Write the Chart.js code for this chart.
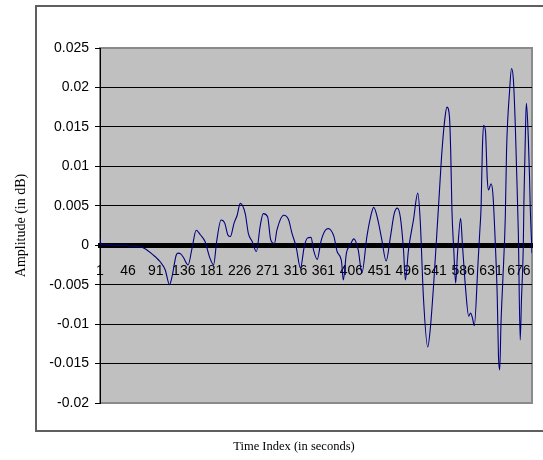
<!DOCTYPE html>
<html>
<head>
<meta charset="utf-8">
<script src="https://cdn.jsdelivr.net/npm/chart.js@4.4.1/dist/chart.umd.min.js"></script>
<style>
  html, body { margin: 0; padding: 0; background: #fff; }
  canvas { display: block; }
</style>
</head>
<body>
<canvas id="chart" width="543" height="460"></canvas>
<script>
// values (time index -> amplitude)
const timeIndex = [
  1, 3, 6, 25, 49, 65, 75, 86, 92, 98, 106, 113, 117, 124, 127, 131, 135, 143, 149, 156,
  163, 170, 178, 184, 189, 196, 202, 207, 211, 217, 222, 227, 235, 240, 246, 253, 259, 264, 271, 276,
  282, 286, 297, 305, 310, 317, 324, 330, 335, 341, 345, 351, 357, 364, 369, 373, 378, 383, 390, 393,
  398, 404, 410, 417, 423, 431, 437, 442, 449, 455, 462, 469, 475, 480, 485, 490, 493, 498, 506, 513,
  517, 522, 529, 533, 539, 544, 547, 552, 557, 560, 564, 566, 568, 571, 574, 577, 582, 585, 590, 595,
  598, 601, 604, 610, 613, 615, 617, 619, 622, 625, 627, 631, 634, 638, 641, 643, 645, 647, 650, 654,
  656, 661, 664, 667, 670, 672, 675, 678, 680, 683, 684, 687, 688, 691, 693, 694, 697
];
const amplitude = [
  0.0009, 0.0000, 0.0001, 0.0000, -0.0001, -0.0002, -0.0005, -0.0012, -0.0016, -0.0021, -0.0031, -0.0050, -0.0040, -0.0012, -0.0010, -0.0011, -0.0015, -0.0025, -0.0005, 0.0019,
  0.0013, 0.0005, -0.0016, -0.0025, 0.0005, 0.0032, 0.0028, 0.0013, 0.0011, 0.0028, 0.0038, 0.0053, 0.0040, 0.0015, 0.0005, -0.0008, 0.0024, 0.0040, 0.0036, 0.0007,
  0.0002, 0.0019, 0.0038, 0.0032, 0.0016, -0.0002, -0.0029, -0.0002, 0.0009, 0.0010, -0.0006, -0.0018, 0.0005, 0.0019, 0.0021, 0.0019, 0.0011, -0.0008, -0.0020, -0.0044,
  -0.0010, 0.0000, 0.0008, -0.0006, -0.0035, 0.0011, 0.0036, 0.0048, 0.0031, 0.0007, -0.0020, 0.0011, 0.0040, 0.0047, 0.0035, -0.0006, -0.0044, -0.0006, 0.0032, 0.0066,
  0.0030, -0.0065, -0.0129, -0.0107, -0.0044, 0.0019, 0.0057, 0.0120, 0.0163, 0.0175, 0.0163, 0.0120, 0.0045, -0.0006, -0.0048, -0.0010, 0.0034, 0.0000, -0.0055, -0.0090,
  -0.0086, -0.0092, -0.0102, -0.0023, 0.0019, 0.0049, 0.0121, 0.0152, 0.0145, 0.0083, 0.0070, 0.0078, 0.0065, 0.0000, -0.0065, -0.0141, -0.0158, -0.0100, -0.0044, 0.0036,
  0.0120, 0.0197, 0.0224, 0.0210, 0.0154, 0.0100, 0.0015, -0.0120, -0.0070, 0.0000, 0.0057, 0.0163, 0.0180, 0.0137, 0.0087, 0.0053, -0.0010
];
const tickLabels = [1, 46, 91, 136, 181, 226, 271, 316, 361, 406, 451, 496, 541, 586, 631, 676];

const yTitle = 'Amplitude (in dB)';
const xTitle = 'Time Index (in seconds)';

// white chart box with frame, grey plot area, x title below the frame
const excelLook = {
  id: 'excelLook',
  beforeDraw(chart) {
    const { ctx, chartArea: a } = chart;
    ctx.save();
    ctx.fillStyle = '#fff';
    ctx.fillRect(0, 0, chart.width, chart.height);
    ctx.strokeStyle = '#5f5f5f';
    ctx.lineWidth = 2;
    ctx.strokeRect(36, 6, chart.width, 425);
    ctx.fillStyle = '#c0c0c0';
    ctx.fillRect(a.left, a.top, a.right - a.left, a.bottom - a.top);
    ctx.strokeStyle = '#8a8a8a';
    ctx.lineWidth = 2;
    ctx.strokeRect(a.left, a.top, a.right - a.left, a.bottom - a.top);
    ctx.restore();
  },
  afterDraw(chart) {
    const ctx = chart.ctx;
    ctx.save();
    ctx.font = '12.5px "Liberation Serif"';
    ctx.fillStyle = '#000';
    ctx.textAlign = 'center';
    ctx.textBaseline = 'middle';
    ctx.fillText(xTitle, 294, 447);
    ctx.restore();
  }
};

new Chart(document.getElementById('chart'), {
  type: 'line',
  data: {
    datasets: [{
      data: timeIndex.map((t, i) => ({ x: t, y: amplitude[i] })),
      borderColor: '#000080',
      borderWidth: 1.1,
      pointRadius: 0,
      cubicInterpolationMode: 'monotone',
      fill: false
    }]
  },
  options: {
    responsive: false,
    animation: false,
    devicePixelRatio: 1,
    layout: { padding: { left: 9, top: 48, right: 11, bottom: 57 } },
    plugins: { legend: { display: false }, tooltip: { enabled: false } },
    scales: {
      x: {
        type: 'linear',
        min: 1,
        max: 697,
        position: { y: 0 },
        z: 1,
        afterBuildTicks: s => { s.ticks = tickLabels.map(v => ({ value: v })); },
        // the axis sits inside the plot, so its labels must not push the plot edges
        afterFit: s => { s.paddingLeft = 0; s.paddingRight = 0; },
        ticks: {
          color: '#000',
          font: { family: '"Liberation Sans", Arial', size: 14 },
          padding: 18,
          maxRotation: 0,
          autoSkip: false,
          callback: v => String(v)
        },
        grid: { display: false, drawTicks: false },
        border: { display: true, color: '#000', width: 5 }
      },
      y: {
        min: -0.02,
        max: 0.025,
        afterFit: s => { s.width = 91; },
        ticks: {
          stepSize: 0.005,
          color: '#000',
          font: { family: '"Liberation Sans", Arial', size: 14 },
          padding: 6,
          callback: v => String(+v.toFixed(3))
        },
        grid: {
          color: c => (c.index === 0 || c.index === c.scale.ticks.length - 1) ? '#8a8a8a' : '#000',
          tickColor: '#000',
          tickLength: 5,
          lineWidth: 1
        },
        border: { color: '#000', width: 1 },
        title: {
          display: true,
          text: yTitle,
          color: '#000',
          font: { family: '"Liberation Serif"', size: 14 },
          padding: { top: 4, bottom: 4 }
        }
      }
    }
  },
  plugins: [excelLook]
});
</script>
</body>
</html>
